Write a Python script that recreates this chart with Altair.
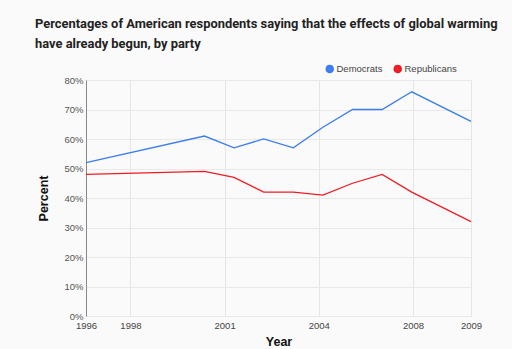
import altair as alt
import pandas as pd

years = [1996, 2000, 2001, 2002, 2003, 2004, 2005, 2006, 2007, 2009]
democrats = [52, 61, 57, 60, 57, 64, 70, 70, 76, 66]
republicans = [48, 49, 47, 42, 42, 41, 45, 48, 42, 32]
parties = ["Democrats", "Republicans"]
colors = ["#3b7cf0", "#ee1c25"]
tick_values = [1996, 1997.5, 2000.68, 2003.86, 2007.04, 2009]
tick_labels = ["1996", "1998", "2001", "2004", "2008", "2009"]
y_ticks = [0, 10, 20, 30, 40, 50, 60, 70, 80]

rows = []
for y, d, r in zip(years, democrats, republicans):
    rows.append({"Year": y, "Party": parties[0], "Percent": d})
    rows.append({"Year": y, "Party": parties[1], "Percent": r})
df = pd.DataFrame(rows)

label_expr = " : ".join(
    f"abs(datum.value - {v}) < 0.01 ? '{l}'" for v, l in zip(tick_values, tick_labels)
) + " : ''"

chart = alt.Chart(df).mark_line(strokeWidth=1.3).encode(
    x=alt.X("Year:Q",
            scale=alt.Scale(domain=[1996, 2009], nice=False, zero=False),
            axis=alt.Axis(values=tick_values, labelExpr=label_expr, title="Year",
                          domain=False, ticks=False, labelPadding=4,
                          labelFontSize=9.5, labelColor="#444", labelFont="Arial",
                          titleFont="Arial", titleFontSize=12.5, titleFontWeight="bold",
                          titleColor="#111", titlePadding=6, gridColor="#e6e6e6",
                          labelFlush=False)),
    y=alt.Y("Percent:Q",
            scale=alt.Scale(domain=[0, 80], nice=False),
            axis=alt.Axis(values=y_ticks, labelExpr="datum.value + '%'", title="Percent",
                          domain=True, domainColor="#888", ticks=False, labelPadding=3,
                          labelFontSize=9.5, labelColor="#555", labelFont="Arial",
                          titleFont="Arial", titleFontSize=12.5, titleFontWeight="bold",
                          titleColor="#111", titlePadding=13, gridColor="#e9e9e9")),
    color=alt.Color("Party:N",
                    scale=alt.Scale(domain=parties, range=colors),
                    legend=alt.Legend(orient="none", legendX=239, legendY=-16,
                                      direction="horizontal", title=None,
                                      symbolType="circle", symbolSize=16,
                                      symbolStrokeWidth=4.5, symbolOpacity=1,
                                      labelFontSize=9.5, labelColor="#444",
                                      labelFont="Arial", columnPadding=3,
                                      labelOffset=2, padding=0)),
).properties(
    width=385,
    height=236,
    autosize=alt.AutoSizeParams(type="none"),
    padding={"left": 86, "top": 80, "right": 41, "bottom": 33},
    background="#fafafa",
    title=alt.Title(
        ["Percentages of American respondents saying that the effects of global warming",
         "have already begun, by party"],
        anchor="start", frame="group", dx=-51, dy=13, offset=26,
        font="Roboto", fontSize=12.9, fontWeight="bold",
        color="#222", lineHeight=20, baseline="top",
    ),
).configure_view(stroke=None, fill="#fafafa")

chart.save("out.html", embed_options={"renderer": "svg", "actions": False})
